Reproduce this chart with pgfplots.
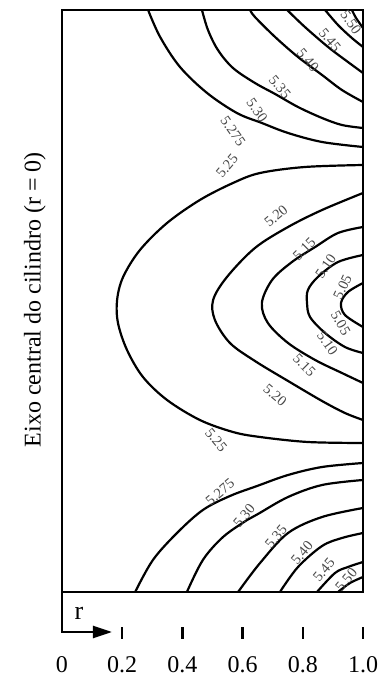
\documentclass[border=0pt]{standalone}
\usepackage{fontspec}
\setmainfont{Liberation Serif}
\usepackage{pgfplots}
\pgfplotsset{compat=1.18}
\usetikzlibrary{arrows.meta}
\tikzset{
  lbl/.style={font=\fontsize{14.5bp}{16bp}\selectfont, text=black!72, inner sep=0pt},
  cont/.style={line width=2.2bp, black, smooth, tension=0.55, mark=none},
}
\begin{document}
\begin{tikzpicture}
\begin{axis}[
  scale only axis, width=301bp, height=582bp,
  xmin=0, xmax=1, ymin=0, ymax=582,
  axis line style={line width=2.6bp},
  ytick=\empty,
  xtick={0,0.2,0.4,0.6,0.8,1.0},
  xticklabels={0,0.2,0.4,0.6,0.8,1.0},
  major tick length=0pt,
  xticklabel style={anchor=base, yshift=-80bp, font=\fontsize{24bp}{28bp}\selectfont},
  ylabel={Eixo central do cilindro (r = 0)},
  every axis y label/.style={at={(rel axis cs:-0.09,0.502)},anchor=center,rotate=90,font=\fontsize{24bp}{28bp}\selectfont},
  clip=false,
]
% top half (maxima at top-right corner)
\addplot[cont] coordinates {(0.963,582)(0.977,574)(1,564)};
\addplot[cont] coordinates {(0.874,582)(0.917,567)(0.963,554)(1,545)};
\addplot[cont] coordinates {(0.748,582)(0.807,565)(0.884,545)(0.950,530)(1,519)};
\addplot[cont] coordinates {(0.625,582)(0.641,575)(0.708,555)(0.784,535)(0.864,517)(0.930,502)(1,490)};
\addplot[cont] coordinates {(0.465,582)(0.485,562)(0.518,542)(0.568,524)(0.641,509)(0.708,498)(0.784,485)(0.864,474)(0.930,467)(1,464)};
\addplot[cont] coordinates {(0.286,582)(0.326,555)(0.392,525)(0.482,499)(0.581,479)(0.664,469)(0.751,459)(0.864,450)(1,445)};
% closed loops around the minimum at r = 1
\addplot[cont] coordinates {(1,427)(0.807,425)(0.658,419)(0.568,409)(0.458,392)(0.349,369)(0.259,342)(0.203,315)(0.183,292)(0.186,269)(0.216,242)(0.269,215)(0.349,192)(0.458,172)(0.568,160)(0.658,155)(0.817,150)(1,149)};
\addplot[cont] coordinates {(1,399)(0.864,382)(0.751,365)(0.641,344)(0.548,315)(0.502,292)(0.508,272)(0.558,249)(0.641,231)(0.751,211)(0.864,191)(0.940,179)(1,172)};
\addplot[cont] coordinates {(1,365)(0.917,359)(0.841,345)(0.764,330)(0.698,312)(0.664,289)(0.684,269)(0.751,249)(0.841,232)(0.930,219)(1,209)};
\addplot[cont] coordinates {(1,337)(0.917,330)(0.850,315)(0.817,302)(0.814,289)(0.824,275)(0.874,259)(0.940,245)(1,239)};
\addplot[cont] coordinates {(1,309)(0.950,300)(0.927,289)(0.940,277)(1,265)};
% bottom half (maxima at bottom-right corner)
\addplot[cont] coordinates {(0.243,0)(0.302,32)(0.382,59)(0.468,82)(0.558,96)(0.648,106)(0.751,117)(0.864,125)(1,129)};
\addplot[cont] coordinates {(0.415,0)(0.468,32)(0.535,55)(0.615,72)(0.651,78)(0.751,95)(0.864,107)(1,112)};
\addplot[cont] coordinates {(0.585,0)(0.658,29)(0.751,59)(0.864,75)(1,84)};
\addplot[cont] coordinates {(0.724,0)(0.784,25)(0.864,46)(0.930,54)(1,59)};
\addplot[cont] coordinates {(0.847,0)(0.907,19)(0.950,25)(1,30)};
\addplot[cont] coordinates {(0.917,0)(0.957,9)(1,15)};
% contour labels
\node[lbl,rotate=-55] at (axis cs:0.960,570) {5.50};
\node[lbl,rotate=-50] at (axis cs:0.890,552) {5.45};
\node[lbl,rotate=-50] at (axis cs:0.817,532) {5.40};
\node[lbl,rotate=-50] at (axis cs:0.724,505) {5.35};
\node[lbl,rotate=-55] at (axis cs:0.648,482) {5.30};
\node[lbl,rotate=-55] at (axis cs:0.568,461) {5.275};
\node[lbl,rotate=50] at (axis cs:0.548,426) {5.25};
\node[lbl,rotate=40] at (axis cs:0.711,376) {5.20};
\node[lbl,rotate=45] at (axis cs:0.805,343) {5.15};
\node[lbl,rotate=55] at (axis cs:0.876,326) {5.10};
\node[lbl,rotate=65] at (axis cs:0.932,305) {5.05};
\node[lbl,rotate=-60] at (axis cs:0.926,269) {5.05};
\node[lbl,rotate=-55] at (axis cs:0.882,249) {5.10};
\node[lbl,rotate=-45] at (axis cs:0.805,227) {5.15};
\node[lbl,rotate=-40] at (axis cs:0.708,197) {5.20};
\node[lbl,rotate=-50] at (axis cs:0.512,152) {5.25};
\node[lbl,rotate=40] at (axis cs:0.525,100) {5.275};
\node[lbl,rotate=50] at (axis cs:0.605,76) {5.30};
\node[lbl,rotate=50] at (axis cs:0.711,55) {5.35};
\node[lbl,rotate=50] at (axis cs:0.797,39) {5.40};
\node[lbl,rotate=50] at (axis cs:0.870,22) {5.45};
\node[lbl,rotate=50] at (axis cs:0.944,12) {5.50};
% r axis arrow and detached tick marks
\draw[line width=2.4bp,-{Triangle[length=19bp,width=12bp]}] (axis cs:0,0) -- (axis cs:0,-40) -- (axis cs:0.166,-40);
\node[font=\fontsize{26bp}{28bp}\selectfont] at (axis cs:0.056,-21) {r};
\pgfplotsinvokeforeach{0.2,0.4,0.6,0.8,1.0}{
  \draw[line width=2.4bp] (axis cs:#1,-35) -- (axis cs:#1,-47);
}
\end{axis}
\pgfresetboundingbox
\useasboundingbox (-62bp,-84bp) rectangle (323bp,592bp);
\end{tikzpicture}
\end{document}
